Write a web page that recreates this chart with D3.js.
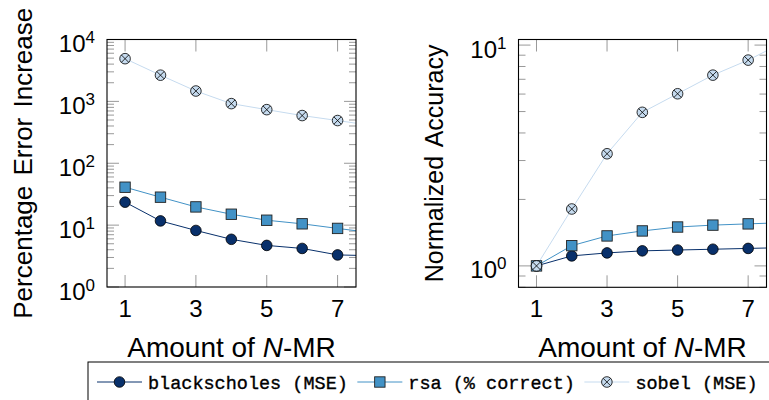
<!DOCTYPE html>
<html lang="en">
<head>
  <meta charset="UTF-8" />
  <title>N-MR error and accuracy</title>
  <style>
    body { margin: 0; background: white; }
    svg { display: block; }
    .lbl { font-family: "Liberation Sans", Arial, sans-serif; fill: #000; }
    .mono { font-family: "Liberation Mono", "Courier New", monospace; font-size: 18.5px; fill: #000; stroke: #000; stroke-width: 0.35px; }
  </style>
</head>
<body>
  <svg width="769" height="400"></svg>
  <script src="https://d3js.org/d3.v7.min.js"></script>
  <script>
    // values; x = 8 sits just outside the plot and is clipped
    const nmr = [1, 2, 3, 4, 5, 6, 7, 8];
    const xTicks = [1, 3, 5, 7];

    const errBlackscholes = [23.5, 11.7, 8.2, 5.9, 4.7, 4.2, 3.3, 3.2];
    const errRsa = [41, 28.3, 19.7, 15, 12, 10.5, 8.85, 7.5];
    const errSobel = [4900, 2650, 1470, 920, 735, 590, 490, 405];

    const accBlackscholes = [1, 1.11, 1.145, 1.17, 1.18, 1.19, 1.2, 1.21];
    const accRsa = [1, 1.235, 1.367, 1.44, 1.5, 1.53, 1.55, 1.57];
    const accSobel = [1, 1.81, 3.22, 4.96, 6.02, 7.31, 8.55, 10.3];

    const seriesNames = ["blackscholes (MSE)", "rsa (% correct)", "sobel (MSE)"];
    const seriesColors = ["#08306b", "#4292c6", "#c6dbef"];
    const seriesMarks = ["circle", "square", "otimes"];

    const svg = d3.select("svg");

    function drawMark(g, type, color) {
      if (type === "circle") {
        g.append("circle").attr("r", 5.3).attr("fill", color)
          .attr("stroke", "#000").attr("stroke-width", 0.8);
      } else if (type === "square") {
        g.append("rect").attr("x", -5.2).attr("y", -5.2).attr("width", 10.4).attr("height", 10.4)
          .attr("fill", color).attr("stroke", "#222").attr("stroke-width", 0.9);
      } else {
        g.append("circle").attr("r", 5.3).attr("fill", color)
          .attr("stroke", "#000").attr("stroke-width", 0.8);
        const k = 5.3 * Math.SQRT1_2;
        g.append("path").attr("d", `M${-k},${-k}L${k},${k}M${-k},${k}L${k},${-k}`)
          .attr("stroke", "#000").attr("stroke-width", 0.8);
      }
    }

    function panel(id, box, yDomain, majors, minors, series, yTitle, titleX) {
      const x = d3.scaleLinear().domain([0.49, 7.52]).range([box.left, box.right]);
      const y = d3.scaleLog().domain(yDomain).range([box.bottom, box.top]);
      const g = svg.append("g");

      g.append("clipPath").attr("id", id).append("rect")
        .attr("x", box.left).attr("y", box.top)
        .attr("width", box.right - box.left).attr("height", box.bottom - box.top);

      // ticks, drawn inward on all four sides
      const tick = g.append("g").attr("stroke", "#999").attr("stroke-width", 1);
      xTicks.forEach(v => {
        tick.append("line").attr("x1", x(v)).attr("x2", x(v)).attr("y1", box.top).attr("y2", box.top + 12);
        tick.append("line").attr("x1", x(v)).attr("x2", x(v)).attr("y1", box.bottom).attr("y2", box.bottom - 12);
      });
      majors.forEach(v => {
        tick.append("line").attr("x1", box.left).attr("x2", box.left + 12).attr("y1", y(v)).attr("y2", y(v));
        tick.append("line").attr("x1", box.right).attr("x2", box.right - 12).attr("y1", y(v)).attr("y2", y(v));
      });
      minors.forEach(v => {
        tick.append("line").attr("x1", box.left).attr("x2", box.left + 7).attr("y1", y(v)).attr("y2", y(v));
        tick.append("line").attr("x1", box.right).attr("x2", box.right - 7).attr("y1", y(v)).attr("y2", y(v));
      });

      const plot = g.append("g").attr("clip-path", `url(#${id})`);
      series.forEach((vals, i) => {
        const pts = nmr.map((n, j) => [n, vals[j]]);
        plot.append("path")
          .attr("d", d3.line().x(d => x(d[0])).y(d => y(d[1]))(pts))
          .attr("fill", "none").attr("stroke", seriesColors[i]).attr("stroke-width", 1);
      });
      // marks go over all the lines
      series.forEach((vals, i) => {
        nmr.forEach((n, j) => {
          const m = plot.append("g").attr("transform", `translate(${x(n)},${y(vals[j])})`);
          drawMark(m, seriesMarks[i], seriesColors[i]);
        });
      });

      g.append("rect")
        .attr("x", box.left).attr("y", box.top)
        .attr("width", box.right - box.left).attr("height", box.bottom - box.top)
        .attr("fill", "none").attr("stroke", "#000").attr("stroke-width", 1.1);

      xTicks.forEach(v => {
        g.append("text").attr("class", "lbl").attr("x", x(v)).attr("y", box.bottom + 29.5)
          .attr("text-anchor", "middle").attr("font-size", 24).text(v);
      });
      majors.forEach(v => {
        const t = g.append("text").attr("class", "lbl").attr("x", box.left - 12).attr("y", y(v) + 12.5)
          .attr("text-anchor", "end").attr("font-size", 24);
        t.append("tspan").text("10");
        t.append("tspan").attr("dy", -9).attr("font-size", 17).text(Math.round(Math.log10(v)));
      });

      const xt = g.append("text").attr("class", "lbl").attr("font-size", 28)
        .attr("x", (box.left + box.right) / 2).attr("y", box.bottom + 69.5).attr("text-anchor", "middle");
      xt.append("tspan").text("Amount of ");
      xt.append("tspan").attr("font-style", "italic").text("N");
      xt.append("tspan").text("-MR");

      g.append("text").attr("class", "lbl").attr("font-size", yTitle.size)
        .attr("word-spacing", 3)
        .attr("transform", `translate(${titleX},${(box.top + box.bottom) / 2}) rotate(-90)`)
        .attr("text-anchor", "middle").text(yTitle.text);
    }

    panel("clipL", { left: 107, right: 356, top: 39.5, bottom: 287 },
      [1, 1e4], [1, 10, 100, 1000, 10000],
      [1, 10, 100, 1000].flatMap(d => [2, 3, 4, 5, 6, 7, 8, 9].map(k => k * d)),
      [errBlackscholes, errRsa, errSobel],
      { text: "Percentage Error Increase", size: 26 }, 31.5);

    panel("clipR", { left: 518.5, right: 766.5, top: 39.5, bottom: 287.3 },
      [0.8, 10.6], [1, 10],
      [0.8, 0.9, 2, 3, 4, 5, 6, 7, 8, 9],
      [accBlackscholes, accRsa, accSobel],
      { text: "Normalized Accuracy", size: 25 }, 443);

    // legend, one row, box runs off the bottom and right edge
    const leg = svg.append("g");
    leg.append("rect").attr("x", 88).attr("y", 362).attr("width", 720).attr("height", 80)
      .attr("fill", "white").attr("stroke", "#000").attr("stroke-width", 1);
    let lx = 97;
    const ly = 382;
    seriesNames.forEach((name, i) => {
      leg.append("line").attr("x1", lx).attr("x2", lx + 45).attr("y1", ly).attr("y2", ly)
        .attr("stroke", seriesColors[i]).attr("stroke-width", 1);
      drawMark(leg.append("g").attr("transform", `translate(${lx + 22.5},${ly})`), seriesMarks[i], seriesColors[i]);
      const t = leg.append("text").attr("class", "mono").attr("x", lx + 51).attr("y", ly + 6.5)
        .attr("xml:space", "preserve").text(name);
      lx += 51 + t.node().getComputedTextLength() + 9.5;
    });
  </script>
</body>
</html>
